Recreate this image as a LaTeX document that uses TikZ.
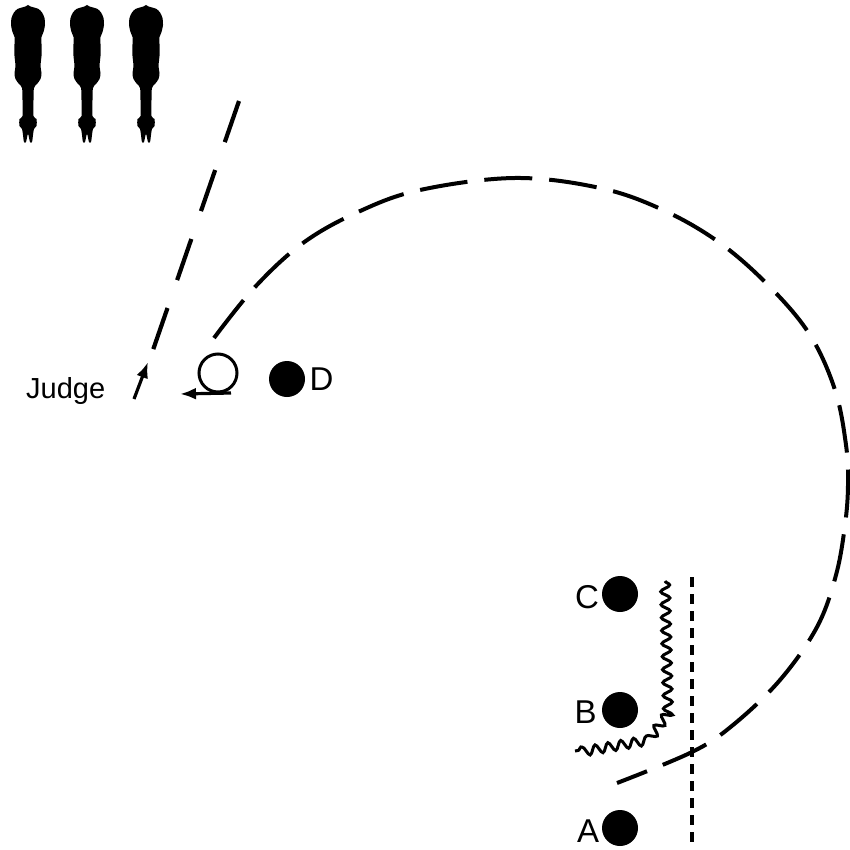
\documentclass[tikz,border=0pt]{standalone}
\usepackage{fontspec}
\setmainfont{Liberation Sans}
\usetikzlibrary{arrows.meta,decorations.pathmorphing}

\tikzset{
  dot/.style={circle, fill=black, draw=none, minimum size=36pt, inner sep=0pt},
  lbl/.style={inner sep=0pt, anchor=base west, font=\fontsize{33}{36}\selectfont},
  judgelbl/.style={inner sep=0pt, anchor=base west, font=\fontsize{29}{32}\selectfont},
  route/.style={line width=4pt, dash pattern=on 48pt off 17pt},
  sightline/.style={line width=4.2pt, dash pattern=on 43.5pt off 29.5pt},
  fenceline/.style={line width=4.5pt, dash pattern=on 10pt off 7pt},
  wavy/.style={line width=3pt, decorate, decoration={snake, segment length=13pt, amplitude=4.5pt}},
  thinarrow/.style={line width=3.2pt, -{Latex[length=16pt,width=12pt]}},
  player/.pic={
    \fill[black] plot[smooth cycle, tension=0.55] coordinates {
      (0,5) (2.5,6.5) (6,7.5) (10.5,9) (14,12.5) (16.5,18) (17,25) (15.5,32) (13.5,37)
      (13.5,44) (13.5,56) (12.5,66) (13.5,73) (12.5,79) (9,84) (6,88) (5.5,100)
      (5.5,116) (8.5,119) (8.5,126) (6,129) (5,135) (4,142) (2,142) (0,134)
      (-2,142) (-4,142) (-5,135) (-6,129) (-8.5,126) (-8.5,119) (-5.5,116)
      (-5.5,100) (-6,88) (-9,84) (-12.5,79) (-13.5,73) (-12.5,66) (-13.5,56)
      (-13.5,44) (-13.5,37) (-15.5,32) (-17,25) (-16.5,18) (-14,12.5) (-10.5,9)
      (-6,7.5) (-2.5,6.5)};
  }
}

\begin{document}
\begin{tikzpicture}[x=1pt, y=-1pt]
  \useasboundingbox (0,0) rectangle (849,850);

  % three players standing in a row, top left
  \foreach \px/\nm in {28/p1, 87/p2, 146/p3}
    \pic (\nm) at (\px,0) {player};

  % judge's sight line and walking direction
  \coordinate (j1) at (239,101);
  \coordinate (j2) at (153,350);
  \draw[sightline] (j1) -- (j2);
  \coordinate (ja) at (134,399);
  \coordinate (jb) at (148,362);
  \draw[thinarrow] (ja) -- (jb);
  \node[judgelbl] (judge) at (26,398) {Judge};

  % turn-around loop
  \coordinate (loopc) at (218,373);
  \draw[line width=3pt] (loopc) circle (19pt);
  \coordinate (l1) at (231,393);
  \coordinate (l2) at (180,394);
  \draw[thinarrow] (l1) -- (l2);

  % positions
  \node[dot] (D) at (287,379) {};
  \node[lbl] (labD) at (309.5,390) {D};
  \node[dot] (C) at (620,594) {};
  \node[lbl] (labC) at (575,608) {C};
  \node[dot] (B) at (620,710) {};
  \node[lbl] (labB) at (574.5,723) {B};
  \node[dot] (A) at (620,828) {};
  \node[lbl] (labA) at (577,842) {A};

  % large running route
  \draw[route] plot[smooth, tension=0.6] coordinates {
    (214,338) (255,287) (303,243) (358,212) (420,190) (515,178)
    (600,188) (663,210) (720,243) (770,287) (810,335) (835,390)
    (846,445) (848,485) (845,525) (836,575) (817,627) (780,680) (733,725)
    (692,752) (617,783)};

  % fence line
  \coordinate (f1) at (692,577);
  \coordinate (f2) at (692,848);
  \draw[fenceline] (f1) -- (f2);

  % wavy boundary
  \coordinate (w1) at (665,581);
  \coordinate (w2) at (668,713);
  \coordinate (w3) at (650,738);
  \coordinate (w4) at (575,751);
  \draw[wavy] (w1) -- (w2) -- (w3) -- (w4);
\end{tikzpicture}
\end{document}
